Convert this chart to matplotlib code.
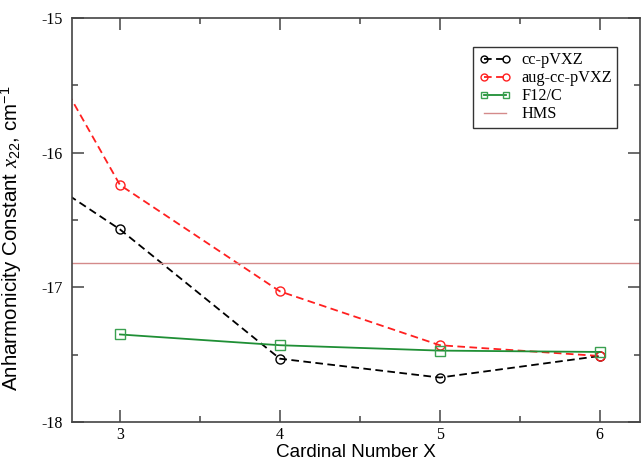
import matplotlib
matplotlib.use("Agg")
import matplotlib.pyplot as plt
from matplotlib.ticker import MultipleLocator

# Cardinal number X of the basis set
card_cc = [2, 3, 4, 5, 6]
cc_pvxz = [-15.78, -16.57, -17.53, -17.67, -17.51]

card_aug = [2, 3, 4, 5, 6]
aug_cc_pvxz = [-14.14, -16.24, -17.03, -17.43, -17.51]

card_f12 = [3, 4, 5, 6]
f12_c = [-17.35, -17.43, -17.47, -17.48]

hms_value = -16.82

x_ticks = [3, 4, 5, 6]
y_ticks = [-18, -17, -16, -15]

plt.rcParams["lines.scale_dashes"] = False
plt.rcParams["mathtext.fontset"] = "custom"
plt.rcParams["mathtext.rm"] = "Liberation Sans"
plt.rcParams["mathtext.it"] = "Liberation Serif:italic"

fig = plt.figure(figsize=(6.41, 4.62), dpi=100)
ax = fig.add_axes([0.1123, 0.0866, 0.8857, 0.8745])

spine_col = "#444444"
ax.plot(card_cc, cc_pvxz, color="black", lw=1.3, dashes=(5.5, 3.2),
        marker="o", ms=6.5, mfc="none", mec="black", mew=1.0, label="cc-pVXZ")
ax.plot(card_aug, aug_cc_pvxz, color="#ff2020", lw=1.3, dashes=(5.5, 3.2),
        marker="o", ms=6.5, mfc="none", mec="#ff2020", mew=1.0, label="aug-cc-pVXZ")
ax.plot(card_f12, f12_c, color="#1f8f35", lw=1.3, linestyle="-",
        marker="s", ms=6.5, mfc="none", mec="#3aa050", mew=1.0, label="F12/C")
ax.axhline(hms_value, color="#d48a8a", lw=1.0, label="HMS")

ax.set_xlim(2.70, 6.25)
ax.set_ylim(-18, -15)
ax.set_xticks(x_ticks)
ax.set_yticks(y_ticks)
ax.xaxis.set_minor_locator(MultipleLocator(0.5))
ax.yaxis.set_minor_locator(MultipleLocator(0.5))

for s in ax.spines.values():
    s.set_color(spine_col)
    s.set_linewidth(1.2)

ax.tick_params(which="both", direction="in", top=True, right=True,
               color=spine_col, width=1.1)
ax.tick_params(which="major", length=8.5)
ax.tick_params(which="minor", length=4.5)
ax.tick_params(axis="x", which="major", labelsize=11.5, pad=3.5)
ax.tick_params(axis="y", which="major", labelsize=11.5, pad=7)
ax.set_xticklabels([str(v) for v in x_ticks], family="Liberation Serif")
ax.set_yticklabels([str(v) for v in y_ticks], family="Liberation Serif")

ax.set_xlabel("Cardinal Number X", family="Liberation Sans", fontsize=13.6)
ax.xaxis.set_label_coords(0.5, -0.0955, transform=ax.transAxes)
ax.xaxis.label.set_va("bottom")
ax.set_ylabel(r"Anharmonicity Constant $\mathit{x}_{\mathit{22}}$, cm$^{-1}$",
              family="Liberation Sans", fontsize=14.8)
ax.yaxis.set_label_coords(-0.085, 0.455, transform=ax.transAxes)

leg = ax.legend(loc="upper right", bbox_to_anchor=(0.96, 0.928), numpoints=2,
                prop={"family": "Liberation Serif", "size": 11.7},
                frameon=True, fancybox=False, framealpha=1, edgecolor="#333333",
                handlelength=2.0, handletextpad=0.6, labelspacing=0.12,
                borderpad=0.33, borderaxespad=0)
leg.get_frame().set_linewidth(1.0)
for h in leg.legend_handles:
    h.set_markersize(5)

fig.savefig("out.png", dpi=100)
